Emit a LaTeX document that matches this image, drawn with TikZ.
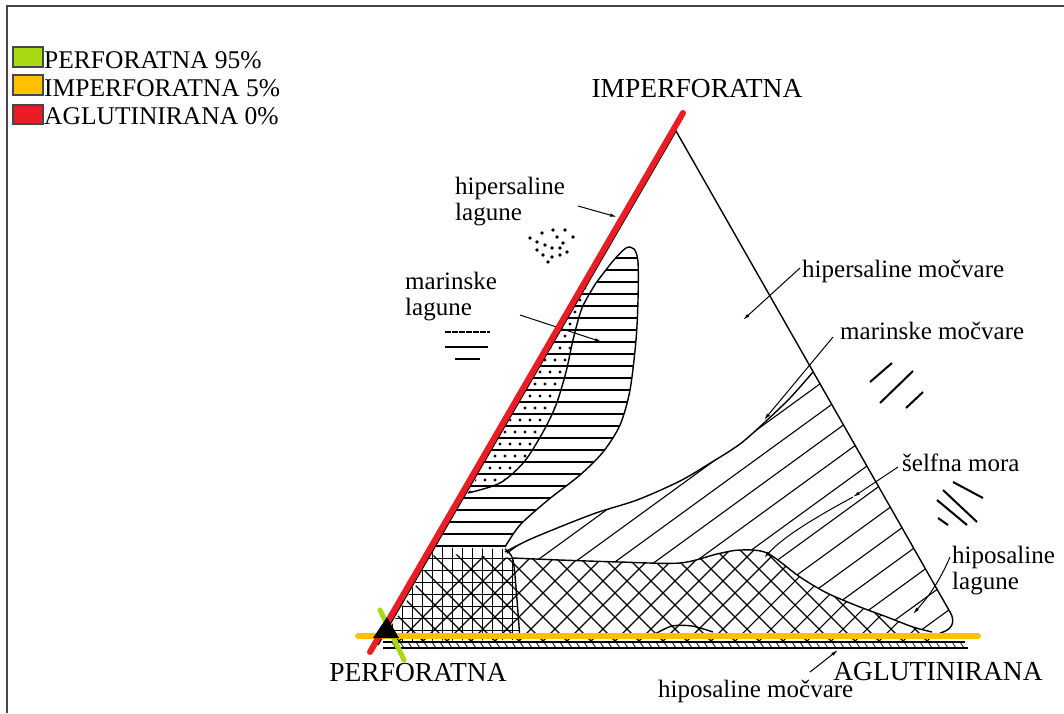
\documentclass[tikz,border=0pt]{standalone}
\usepackage{fontspec}
\setmainfont{Liberation Serif}
\usetikzlibrary{arrows.meta}
\definecolor{legred}{RGB}{235,28,36}
\definecolor{legyellow}{RGB}{255,192,0}
\definecolor{leggreen}{RGB}{168,218,20}
\definecolor{framegray}{RGB}{70,70,70}

\begin{document}
\begin{tikzpicture}[x=1pt, y=-1pt, >={Latex[length=7pt,width=3.5pt]},
   lbl/.style={font=\fontsize{25}{26}\selectfont, inner sep=0pt},
   corner/.style={font=\fontsize{27.5}{30}\selectfont, inner sep=0pt, anchor=base},
   legtext/.style={font=\fontsize{25.5}{28}\selectfont, inner sep=0pt, anchor=base west},
   legbox/.style={draw=framegray, line width=1.5pt},
   hatch/.style={line width=1.1pt},
   outline/.style={line width=1.4pt},
   arr/.style={->, line width=1pt},
   colourline/.style={line width=6pt, line cap=round}]
   \useasboundingbox (0,0) rectangle (1064,713);
   \draw[framegray, line width=2pt] (7,713) -- (7,6) -- (1064,6);

   % legend
   \draw[legbox, fill=leggreen]  (13,47) rectangle (43,67);
   \draw[legbox, fill=legyellow] (13,75) rectangle (43,95);
   \draw[legbox, fill=legred]    (13,105) rectangle (43,124);
   \node[legtext] (leg-perf)   at (44,68)  {PERFORATNA 95\%};
   \node[legtext] (leg-imperf) at (44,96)  {IMPERFORATNA 5\%};
   \node[legtext] (leg-aglut)  at (44,124) {AGLUTINIRANA 0\%};

   % horizontal lines (lobe)
   \begin{scope}
      \clip (588,283) -- plot[smooth] coordinates {(596,283) (613,261) (626,248) (634,249) (638,262) (638,300) (636,340) (630,390) (620,425) (603,452) (580,475) (548,500) (520,525) (505,547)} -- (435,547) -- cycle;
      \foreach \y in {258,270,...,546} \draw[hatch] (420,\y) -- (650,\y);
   \end{scope}
   % dots along the edge
   \begin{scope}
      \clip (588,283) -- plot[smooth] coordinates {(596,283) (582,308) (573,340) (566,372) (556,405) (543,432) (524,462) (500,483) (468,493)} -- cycle;
      \foreach \y [count=\i, evaluate=\i as \off using {mod(\i,2)*5}] in {288,300,...,492}
         \foreach \x in {430,440,...,600}
            \fill ({\x+\off},\y) circle (1.6pt);
   \end{scope}
   % "/" lines (between the curve and the hump)
   \begin{scope}
      \clip plot[smooth] coordinates {(505,552) (533,538) (593,514) (637,500) (680,481) (712,462) (740,444) (765,422) (790,398) (813,372)} -- (951,614) -- (940,634) -- plot[smooth] coordinates {(932,632) (913,627) (887,617) (860,607) (827,593) (800,577) (767,553) (740,550) (717,554) (680,563) (620,562) (560,560) (513,558)} -- cycle;
      \foreach \x in {280,320,...,960} \draw[hatch] (\x,660) -- ++(600,-436);
   \end{scope}
   % cross lines under the hump
   \begin{scope}
      \clip (383,641) -- (435,553) -- plot[smooth] coordinates {(513,558) (560,560) (620,562) (680,563) (717,554) (740,550) (767,553) (800,577) (827,593) (860,607) (887,617) (913,627) (932,632)} -- (935,641) -- cycle;
      \foreach \x in {250,274,...,940} \draw[hatch] (\x,540) -- ++(120,120);
      \foreach \x in {380,404,...,1070} \draw[hatch] (\x,660) -- ++(120,-120);
   \end{scope}
   % small grid at the left corner
   \begin{scope}
      \clip (435,547) -- (505,549) -- plot[smooth] coordinates {(513,560) (517,600) (520,640)} -- (383,641) -- cycle;
      \foreach \x in {392,402,...,520} \draw[line width=0.7pt] (\x,540) -- (\x,645);
      \foreach \y in {558,570,...,640} \draw[line width=0.7pt] (380,\y) -- (520,\y);
   \end{scope}

   % outlines
   \draw[outline] (378,645) -- (676,131) -- (950,612) .. controls (956,622) and (952,630) .. (940,633);
   \draw[outline] (383,642) -- (965,642);
   \draw[outline] (383,648) -- (968,648);
   \foreach \x in {392,400,...,960} \draw[line width=0.7pt] (\x,642) -- ++(4,6);
   \draw[outline] plot[smooth] coordinates {(596,283) (613,261) (626,248) (634,249) (638,262) (638,300) (636,340) (630,390) (620,425) (603,452) (580,475) (548,500) (520,525) (505,547)};
   \draw[outline] plot[smooth] coordinates {(596,283) (582,308) (573,340) (566,372) (556,405) (543,432) (524,462) (500,483) (468,493)};
   \draw[outline] plot[smooth] coordinates {(505,552) (533,538) (593,514) (637,500) (680,481) (712,462) (740,444) (765,422) (790,398) (813,372)};
   \draw[outline] plot[smooth] coordinates {(513,558) (560,560) (620,562) (680,563) (717,554) (740,550) (767,553) (800,577) (827,593) (860,607) (887,617) (913,627) (932,632)};
   \draw[outline] plot[smooth] coordinates {(505,549) (513,560) (517,600) (520,640)};
   \draw[outline] plot[smooth] coordinates {(655,634) (672,626) (692,626) (713,632)};

   % key symbols
   \foreach \p in {(530,238),(542,233),(553,230),(565,230),(573,237),(537,242),(545,245),(557,237),(563,243),(552,248),(560,248),(537,250),(543,255),(552,257),(560,255),(567,252),(548,262)}
      \fill \p circle (1.8pt);
   \draw[line width=1.5pt, dash pattern=on 6pt off 1pt] (445,332) -- (490,332);
   \draw[line width=1.5pt] (445,347) -- (488,347);
   \draw[line width=2pt] (455,359) -- (480,359);
   \draw[line width=2pt] (870,382) -- (892,363) (880,403) -- (913,371) (906,408) -- (923,392);
   \draw[line width=2pt] (953,482) -- (983,498) (943,490) -- (977,522) (937,500) -- (967,525) (938,518) -- (948,525);

   % labels
   \node[lbl, anchor=north west, align=left] (hlag)  at (455,177) {hipersaline\\lagune};
   \node[lbl, anchor=north west, align=left] (mlag)  at (405,272) {marinske\\lagune};
   \node[lbl, anchor=base west]              (hmoc)  at (802,277) {hipersaline močvare};
   \node[lbl, anchor=base west]              (mmoc)  at (840,339) {marinske močvare};
   \node[lbl, anchor=base west]              (smora) at (902,471) {šelfna mora};
   \node[lbl, anchor=north west, align=left] (hplag) at (952,546) {hiposaline\\lagune};
   \node[lbl, anchor=base west]              (hpmoc) at (658,697) {hiposaline močvare};
   \node[corner] (imperf) at (697,97)  {IMPERFORATNA};
   \node[corner] (perf)   at (418,681) {PERFORATNA};
   \node[corner] (aglut)  at (938,680) {AGLUTINIRANA};

   % arrows
   \coordinate (hlag-a)  at (578,206); \coordinate (hlag-b)  at (617,217);
   \coordinate (mlag-a)  at (520,315); \coordinate (mlag-b)  at (602,342);
   \coordinate (hmoc-a)  at (800,268); \coordinate (hmoc-b)  at (743,320);
   \coordinate (mmoc-a)  at (833,337); \coordinate (mmoc-b)  at (764,420);
   \coordinate (smora-a) at (898,467); \coordinate (smora-m) at (853,497);
   \coordinate (smora-b) at (764,558);
   \coordinate (hplag-a) at (950,557); \coordinate (hplag-b) at (913,614);
   \coordinate (hpmoc-a) at (810,672); \coordinate (hpmoc-b) at (838,650);
   \draw[arr] (hlag-a) -- (hlag-b);
   \draw[arr] (mlag-a) -- (mlag-b);
   \draw[arr] (hmoc-a) -- (hmoc-b);
   \draw[arr] (mmoc-a) -- (mmoc-b);
   \draw[arr] (smora-a) -- (smora-m);
   \draw[arr] (smora-m) .. controls (820,515) and (785,535) .. (smora-b);
   \draw[arr] (hplag-a) .. controls (940,580) and (930,595) .. (hplag-b);
   \draw[arr] (hpmoc-a) -- (hpmoc-b);

   % coloured axes
   \draw[colourline, legyellow] (358,636) -- (978,636);
   \draw[colourline, legred] (370,652) -- (683,113);
   \draw[colourline, leggreen, line width=5pt] (380,610) -- (404,660);
   \fill (373,638) -- (399,638) -- (387,617) -- cycle;
\end{tikzpicture}
\end{document}
